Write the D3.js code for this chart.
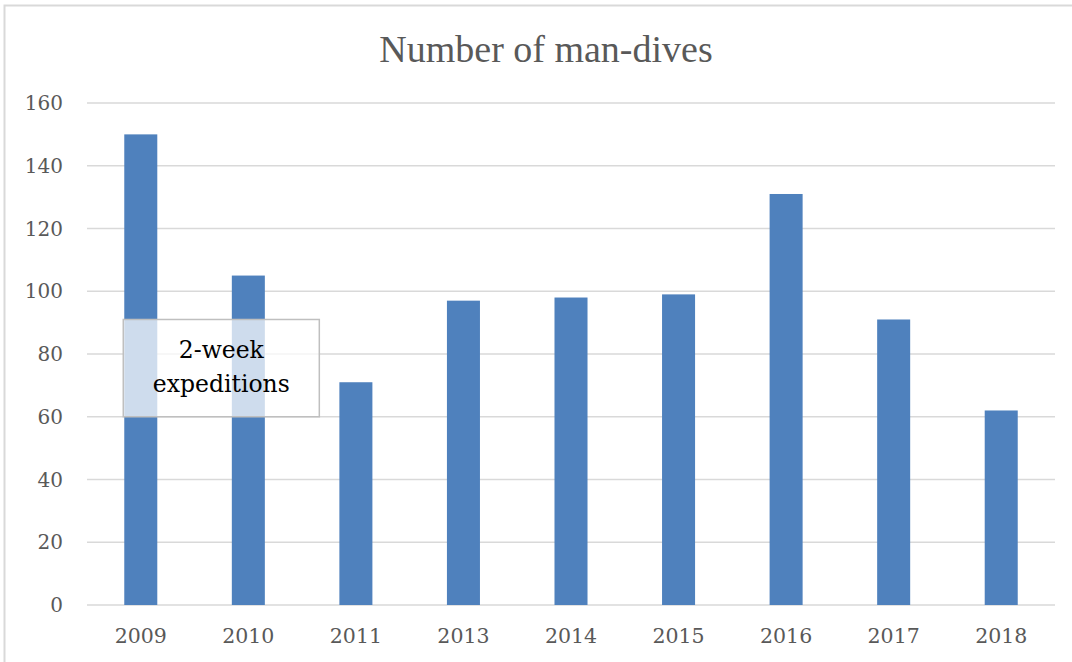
<!DOCTYPE html>
<html>
<head>
<meta charset="utf-8">
<script src="https://cdn.jsdelivr.net/npm/d3@7"></script>
<style>
  body { margin: 0; background: #fff; }
  svg { display: block; }
</style>
</head>
<body>
<div id="chart"></div>
<script>
// data
const years = ["2009", "2010", "2011", "2013", "2014", "2015", "2016", "2017", "2018"];
const dives = [150, 105, 71, 97, 98, 99, 131, 91, 62];
const yTicks = [0, 20, 40, 60, 80, 100, 120, 140, 160];
const noteLines = ["2-week", "expeditions"];
const noteSpan = { from: "2009", to: "2010", low: 60, high: 91 };

const W = 1072, H = 662;
const margin = { top: 103, right: 17, bottom: 57, left: 87 },
    width = W - margin.left - margin.right,
    height = H - margin.top - margin.bottom;

const labelFont = "'DejaVu Serif', serif";

const svg = d3.select("#chart").append("svg")
    .attr("width", W)
    .attr("height", H);

// chart frame (only top/left edges fall inside the window)
svg.append("rect")
    .attr("x", 4.5).attr("y", 5.5)
    .attr("width", W + 40).attr("height", H + 40)
    .attr("fill", "none")
    .attr("stroke", "#d9d9d9")
    .attr("stroke-width", 2);

svg.append("text")
    .attr("x", W / 2 + 10)
    .attr("y", 62)
    .attr("text-anchor", "middle")
    .style("font-family", "'Liberation Serif', serif")
    .style("font-size", "38px")
    .style("fill", "#595959")
    .text("Number of man-dives");

const g = svg.append("g")
    .attr("transform", "translate(" + margin.left + "," + margin.top + ")");

const x = d3.scaleBand().domain(years).range([0, width])
    .paddingInner(0.693).paddingOuter(0.3465);
const y = d3.scaleLinear().domain([0, 160]).range([height, 0]);

// gridlines
g.append("g")
    .selectAll("line")
    .data(yTicks)
    .enter().append("line")
    .attr("x1", 0).attr("x2", width)
    .attr("y1", d => y(d)).attr("y2", d => y(d))
    .attr("stroke", "#d9d9d9")
    .attr("stroke-width", 1.5);

// y labels
g.append("g")
    .selectAll("text")
    .data(yTicks)
    .enter().append("text")
    .attr("x", -24)
    .attr("y", d => y(d))
    .attr("dy", "0.36em")
    .attr("text-anchor", "end")
    .style("font-family", labelFont)
    .style("font-size", "20px")
    .style("fill", "#595959")
    .text(d => d);

// bars
g.append("g")
    .selectAll("rect")
    .data(years)
    .enter().append("rect")
    .attr("x", d => x(d))
    .attr("y", (d, i) => y(dives[i]))
    .attr("width", x.bandwidth())
    .attr("height", (d, i) => height - y(dives[i]))
    .attr("fill", "#4f81bd");

// x labels
g.append("g")
    .selectAll("text")
    .data(years)
    .enter().append("text")
    .attr("x", d => x(d) + x.bandwidth() / 2)
    .attr("y", height + 38)
    .attr("text-anchor", "middle")
    .style("font-family", labelFont)
    .style("font-size", "20.5px")
    .style("fill", "#595959")
    .text(d => d);

// annotation box
const nx0 = x(noteSpan.from) - 1,
    nx1 = x(noteSpan.to) + x.bandwidth() / 2 + x.step() * 0.66,
    ny0 = y(noteSpan.high),
    ny1 = y(noteSpan.low);

const note = g.append("g");
note.append("rect")
    .attr("x", nx0).attr("y", ny0)
    .attr("width", nx1 - nx0).attr("height", ny1 - ny0)
    .attr("fill", "#fff")
    .attr("fill-opacity", 0.72)
    .attr("stroke", "#bfbfbf")
    .attr("stroke-width", 1.5);

note.selectAll("text")
    .data(noteLines)
    .enter().append("text")
    .attr("x", (nx0 + nx1) / 2)
    .attr("y", (d, i) => (ny0 + ny1) / 2 - 10 + i * 34)
    .attr("text-anchor", "middle")
    .style("font-family", labelFont)
    .style("font-size", "23.5px")
    .style("fill", "#000")
    .text(d => d);
</script>
</body>
</html>
